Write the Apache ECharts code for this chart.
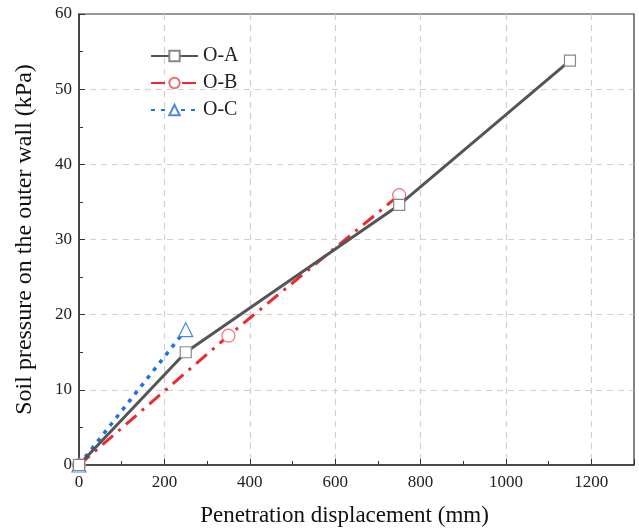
<!DOCTYPE html>
<html>
<head>
<meta charset="utf-8">
<script src="https://cdn.jsdelivr.net/npm/echarts@6/dist/echarts.min.js"></script>
<style>
  html, body { margin: 0; padding: 0; background: #fff; }
  #chart { width: 639px; height: 532px; }
</style>
</head>
<body>
<div id="chart"></div>
<script>
// values: [displacement mm, pressure kPa]
var seriesNames = ['O-A', 'O-B', 'O-C'];
var dataOA = [[0, 0], [250, 15.0], [750, 34.6], [1150, 53.8]];
var dataOB = [[0, 0], [350, 17.2], [750, 35.9]];
var dataOC = [[0, 0], [250, 18.0]];
var xTicks = [0, 200, 400, 600, 800, 1000, 1200];
var yTicks = [0, 10, 20, 30, 40, 50, 60];

var myChart = echarts.init(document.getElementById('chart'));

var font = 'Liberation Serif';

var option = {
    animation: false,
    textStyle: { fontFamily: font },
    grid: {
        left: 79,
        right: 5,
        top: 14,
        bottom: 66,
        show: true,
        borderColor: '#333',
        borderWidth: 1.2
    },
    legend: {
        orient: 'vertical',
        left: 145,
        top: 41,
        itemWidth: 47,
        itemHeight: 13,
        itemGap: 7,
        textStyle: { fontFamily: font, fontSize: 20, color: '#222' },
        data: seriesNames
    },
    xAxis: {
        type: 'value',
        min: 0,
        max: 1300,
        interval: 200,
        name: 'Penetration displacement (mm)',
        nameLocation: 'middle',
        nameGap: 39,
        nameTextStyle: { fontFamily: font, fontSize: 23, color: '#111', padding: [0, 24, 0, 0] },
        axisLine: { show: true, lineStyle: { color: '#333', width: 1.5 } },
        axisTick: { show: true, inside: true, length: 6, lineStyle: { color: '#333' } },
        minorTick: { show: true, splitNumber: 2, length: 4, lineStyle: { color: '#333' } },
        axisLabel: {
            fontFamily: font, fontSize: 17, color: '#222', margin: 9,
            formatter: function (v) { return xTicks.indexOf(v) >= 0 ? v : ''; }
        },
        splitLine: { show: true, showMinLine: false, showMaxLine: false, lineStyle: { color: '#d0d0d0', type: [6, 5], width: 1.2 } }
    },
    yAxis: {
        type: 'value',
        min: 0,
        max: 60,
        interval: 10,
        name: 'Soil pressure on the outer wall (kPa)',
        nameLocation: 'middle',
        nameGap: 42,
        nameTextStyle: { fontFamily: font, fontSize: 24, color: '#111' },
        axisLine: { show: true, lineStyle: { color: '#333', width: 1.5 } },
        axisTick: { show: true, inside: true, length: 6, lineStyle: { color: '#333' } },
        minorTick: { show: true, splitNumber: 2, length: 4, lineStyle: { color: '#333' } },
        axisLabel: {
            fontFamily: font, fontSize: 17, color: '#222', margin: 7,
            formatter: function (v) { return yTicks.indexOf(v) >= 0 ? v : ''; }
        },
        splitLine: { show: true, showMinLine: false, showMaxLine: false, lineStyle: { color: '#d0d0d0', type: [6, 5], width: 1.2 } }
    },
    series: [
        {
            name: seriesNames[0],
            type: 'line',
            data: dataOA,
            symbol: 'rect',
            symbolSize: 11,
            z: 3,
            lineStyle: { color: '#555', width: 3 },
            itemStyle: { color: '#fff', borderColor: '#888', borderWidth: 1.2 }
        },
        {
            name: seriesNames[1],
            type: 'line',
            data: dataOB,
            symbol: 'circle',
            symbolSize: 13,
            z: 2,
            lineStyle: { color: '#ea2b33', width: 3, type: [14, 7, 3, 7] },
            itemStyle: { color: '#fff', borderColor: '#f07078', borderWidth: 1.2 }
        },
        {
            name: seriesNames[2],
            type: 'line',
            data: dataOC,
            symbol: 'triangle',
            symbolSize: 14,
            z: 2,
            lineStyle: { color: '#1f6fe6', width: 3.5, type: [4, 6] },
            itemStyle: { color: '#fff', borderColor: '#4a8ae8', borderWidth: 1.2 }
        }
    ]
};

myChart.setOption(option);
</script>
</body>
</html>
